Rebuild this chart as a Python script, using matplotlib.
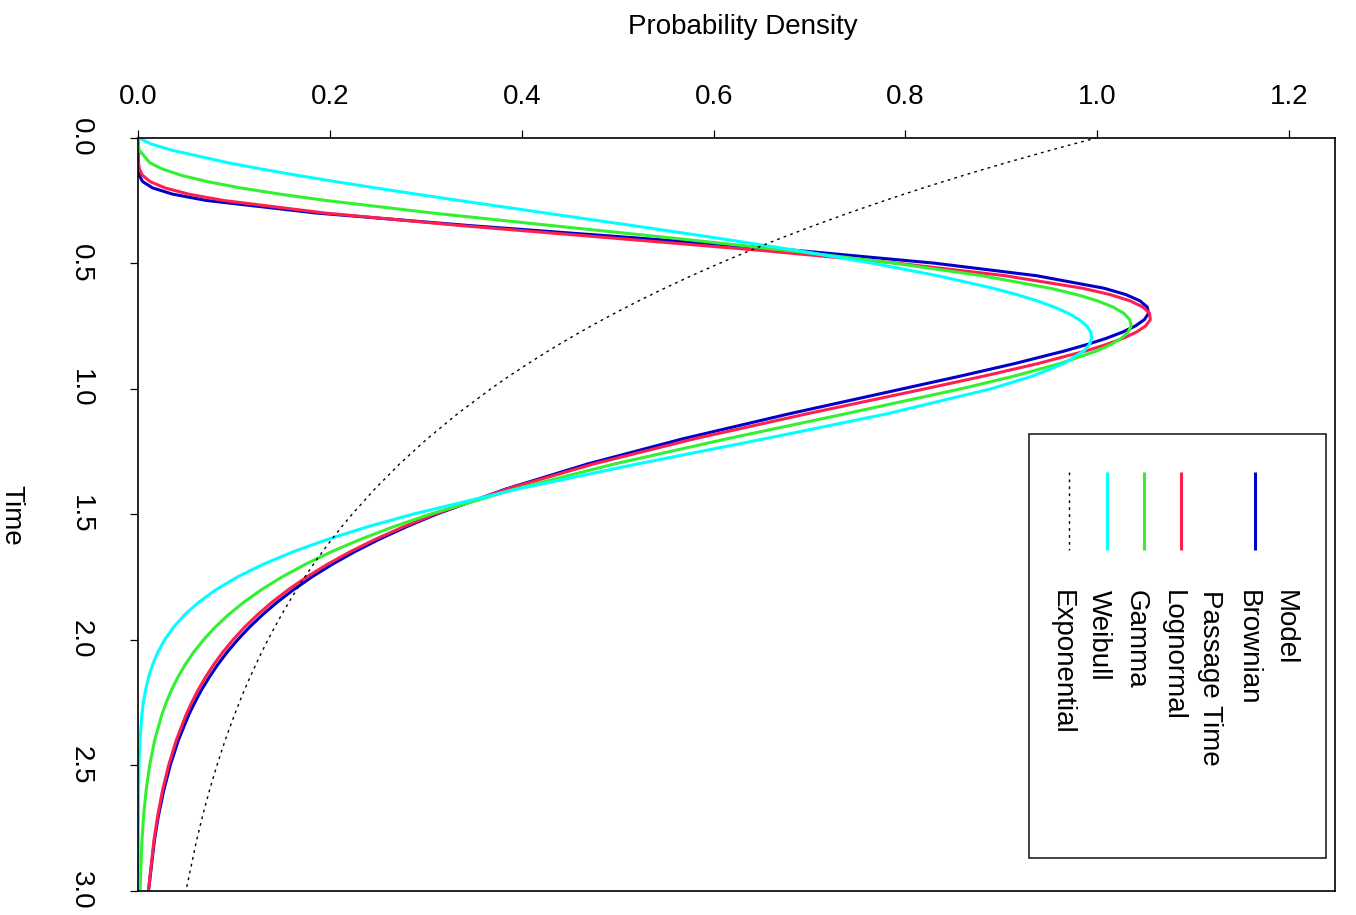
import matplotlib
matplotlib.use("Agg")
import matplotlib.pyplot as plt
from matplotlib.lines import Line2D
from matplotlib.patches import Rectangle

plt.rcParams['font.family'] = ['Liberation Sans', 'DejaVu Sans']

# Time grid and density of each renewal model on that grid
time = [0.0, 0.025, 0.05, 0.1, 0.125, 0.15, 0.175, 0.2, 0.225, 0.25, 0.3, 0.35,
        0.4, 0.45, 0.5, 0.55, 0.6, 0.625, 0.65, 0.675, 0.7, 0.725, 0.75, 0.775,
        0.8, 0.825, 0.85, 0.9, 0.95, 1.0, 1.1, 1.2, 1.3, 1.4, 1.5, 1.55, 1.6,
        1.65, 1.7, 1.75, 1.8, 1.85, 1.9, 1.95, 2.0, 2.05, 2.1, 2.15, 2.2, 2.25,
        2.3, 2.4, 2.5, 2.6, 2.7, 2.8, 3.0]

bpt = [0.0, 0.0, 0.0, 0.0, 0.0001, 0.0009, 0.0046, 0.0148, 0.0359, 0.0709,
       0.1851, 0.3447, 0.5213, 0.6890, 0.8302, 0.9367, 1.0072, 1.0296, 1.0445,
       1.0521, 1.0535, 1.0491, 1.0398, 1.0262, 1.0090, 0.9886, 0.9657, 0.9140,
       0.8572, 0.7979, 0.6791, 0.5678, 0.4687, 0.3833, 0.3112, 0.2799, 0.2514,
       0.2256, 0.2023, 0.1812, 0.1623, 0.1452, 0.1299, 0.1161, 0.1038, 0.0927,
       0.0828, 0.0740, 0.0660, 0.0590, 0.0526, 0.0419, 0.0334, 0.0266, 0.0211,
       0.0168, 0.0107]

lognormal = [0.0, 0.0, 0.0, 0.0002, 0.0012, 0.0044, 0.0124, 0.0277, 0.0526,
             0.0886, 0.1942, 0.3357, 0.4948, 0.6519, 0.7916, 0.9040, 0.9848,
             1.0133, 1.0341, 1.0477, 1.0545, 1.0553, 1.0505, 1.0407, 1.0266,
             1.0088, 0.9878, 0.9383, 0.8818, 0.8213, 0.6976, 0.5799, 0.4749,
             0.3847, 0.3093, 0.2768, 0.2474, 0.2209, 0.1972, 0.1759, 0.1568,
             0.1398, 0.1246, 0.1110, 0.0990, 0.0882, 0.0786, 0.0701, 0.0625,
             0.0558, 0.0498, 0.0397, 0.0317, 0.0253, 0.0203, 0.0163, 0.0106]

gamma = [0.0, 0.0001, 0.0010, 0.0120, 0.0252, 0.0450, 0.0720, 0.1064, 0.1478,
         0.1955, 0.3064, 0.4302, 0.5574, 0.6791, 0.7884, 0.8800, 0.9510,
         0.9783, 1.0001, 1.0165, 1.0277, 1.0339, 1.0353, 1.0321, 1.0249,
         1.0138, 0.9992, 0.9611, 0.9134, 0.8587, 0.7378, 0.6136, 0.4967,
         0.3929, 0.3046, 0.2664, 0.2321, 0.2014, 0.1742, 0.1501, 0.1289,
         0.1104, 0.0943, 0.0803, 0.0683, 0.0578, 0.0489, 0.0413, 0.0347,
         0.0292, 0.0245, 0.0171, 0.0119, 0.0082, 0.0056, 0.0038, 0.0018]

weibull = [0.0, 0.0132, 0.0352, 0.0939, 0.1286, 0.1659, 0.2056, 0.2471, 0.2900,
           0.3341, 0.4244, 0.5151, 0.6037, 0.6879, 0.7652, 0.8336, 0.8914,
           0.9159, 0.9372, 0.9552, 0.9699, 0.9811, 0.9889, 0.9932, 0.9941,
           0.9917, 0.9860, 0.9651, 0.9326, 0.8900, 0.7811, 0.6532, 0.5207,
           0.3957, 0.2866, 0.2396, 0.1979, 0.1615, 0.1302, 0.1037, 0.0815,
           0.0634, 0.0486, 0.0369, 0.0276, 0.0204, 0.0149, 0.0107, 0.0076,
           0.0053, 0.0037, 0.0017, 0.0007, 0.0003, 0.0001, 0.0000, 0.0]

exponential = [1.0, 0.9753, 0.9512, 0.9048, 0.8825, 0.8607, 0.8395, 0.8187,
               0.7985, 0.7788, 0.7408, 0.7047, 0.6703, 0.6376, 0.6065, 0.5769,
               0.5488, 0.5353, 0.5220, 0.5092, 0.4966, 0.4843, 0.4724, 0.4607,
               0.4493, 0.4382, 0.4274, 0.4066, 0.3867, 0.3679, 0.3329, 0.3012,
               0.2725, 0.2466, 0.2231, 0.2122, 0.2019, 0.1920, 0.1827, 0.1738,
               0.1653, 0.1572, 0.1496, 0.1423, 0.1353, 0.1287, 0.1225, 0.1165,
               0.1108, 0.1054, 0.1003, 0.0907, 0.0821, 0.0743, 0.0672, 0.0608,
               0.0498]

density_ticks = [0.0, 0.2, 0.4, 0.6, 0.8, 1.0, 1.2]
time_ticks = [0.0, 0.5, 1.0, 1.5, 2.0, 2.5, 3.0]

legend_labels = ["Model\nBrownian\nPassage Time", "Lognormal", "Gamma",
                 "Weibull", "Exponential"]

series = [bpt, lognormal, gamma, weibull, exponential]
colors = ["#0000C8", "#FF1F4F", "#33F033", "#00FFFF", "black"]
styles = ["-", "-", "-", "-", (0, (2, 3))]
widths = [2.2, 2.2, 2.2, 2.2, 1.0]

W, H = 1356, 915
fig = plt.figure(figsize=(W / 100, H / 100), dpi=100)

left_px, right_px, top_px, bottom_px = 138.3, 1335.0, 137.7, 890.5
ax = fig.add_axes([left_px / W, 1 - bottom_px / H,
                   (right_px - left_px) / W, (bottom_px - top_px) / H])

for vals, c, ls, lw in zip(series, colors, styles, widths):
    ax.plot(vals, time, color=c, linestyle=ls, linewidth=lw,
            solid_capstyle='butt', solid_joinstyle='round', clip_on=True)

ax.set_xlim(0, 1.2479)
ax.set_ylim(3.0, 0.0)

for s in ax.spines.values():
    s.set_linewidth(1.2)
    s.set_color('black')

ax.xaxis.set_ticks_position('top')
ax.set_xticks(density_ticks)
ax.set_xticklabels([f"{v:.1f}" for v in density_ticks])
ax.tick_params(axis='x', direction='out', length=5.8, width=0.9,
               pad=14, labelsize=20)

ax.set_yticks(time_ticks)
ax.set_yticklabels([f"{v:.1f}" for v in time_ticks])
ax.tick_params(axis='y', direction='out', length=5.8, width=0.9,
               pad=26.5, labelsize=20, labelrotation=-90)
for lab in ax.get_yticklabels():
    lab.set_va('center')
    lab.set_ha('right')

fig.text(743 / W, 1 - 27 / H, "Probability Density", fontsize=20,
         ha='center', va='center')
fig.text(11 / W, 1 - 515 / H, "Time", fontsize=20, rotation=-90,
         ha='center', va='center')

# legend drawn in axes-fraction coordinates
def fx(px):
    return (px - left_px) / (right_px - left_px)

def fy(py):
    return (bottom_px - py) / (bottom_px - top_px)

ax.add_patch(Rectangle((fx(1029), fy(858)), fx(1326) - fx(1029),
                       fy(434) - fy(858), transform=ax.transAxes,
                       fill=False, edgecolor='#222222', linewidth=1.2,
                       clip_on=False, zorder=5))

row_x = 1287.5
row_step = 37.2
row = 0
for label, c, ls, lw in zip(legend_labels, colors, styles, widths):
    parts = label.split("\n")
    mid = row + (len(parts) - 1) / 2
    line_x = row_x - mid * row_step + 5
    ax.add_line(Line2D([fx(line_x), fx(line_x)], [fy(472), fy(550)],
                       transform=ax.transAxes, color=c, linestyle=ls,
                       linewidth=lw, solid_capstyle='butt', clip_on=False,
                       zorder=6))
    for p in parts:
        tx = row_x - row * row_step - 3
        ax.text(fx(tx), fy(590), p, transform=ax.transAxes, rotation=-90,
                ha='center', va='top', fontsize=20, zorder=6)
        row += 1

fig.savefig("out.png", dpi=100)
